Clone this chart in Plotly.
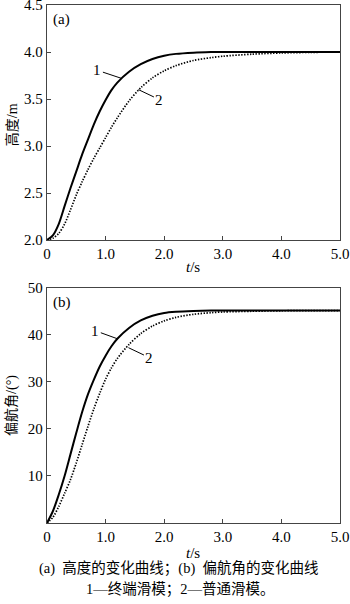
import plotly.graph_objects as go

# ---- data ----
t = [0, 0.1, 0.2, 0.3, 0.4, 0.5, 0.6, 0.7, 0.8, 0.9, 1.0, 1.1, 1.2, 1.4, 1.6, 1.8,
     2.0, 2.2, 2.5, 2.8, 3.0, 3.5, 4.0, 4.5, 5.0]

height_tsm = [2.0, 2.05, 2.17, 2.36, 2.55, 2.73, 2.91, 3.07, 3.23, 3.37, 3.49, 3.595, 3.675,
              3.79, 3.87, 3.925, 3.96, 3.98, 3.993, 3.999, 4.0, 4.0, 4.0, 4.0, 4.0]
height_smc = [2.0, 2.02, 2.07, 2.17, 2.32, 2.48, 2.62, 2.75, 2.87, 2.98, 3.09, 3.20, 3.30,
              3.48, 3.62, 3.725, 3.80, 3.855, 3.91, 3.94, 3.955, 3.977, 3.99, 3.996, 4.0]

yaw_tsm = [0, 2.5, 6.0, 10.0, 14.6, 19.2, 23.6, 27.4, 30.5, 33.3, 35.6, 37.6, 39.2,
           41.5, 43.1, 44.1, 44.7, 44.95, 45.12, 45.2, 45.2, 45.2, 45.2, 45.2, 45.2]
yaw_smc = [0, 1.2, 3.5, 6.3, 9.2, 12.8, 16.7, 20.6, 24.3, 27.6, 30.6, 33.0, 35.0,
           38.0, 40.3, 41.9, 43.0, 43.75, 44.4, 44.75, 44.9, 45.05, 45.15, 45.2, 45.2]

x_tickvals = [0, 1, 2, 3, 4, 5]
x_ticktext = ["0", "1.0", "2.0", "3.0", "4.0", "5.0"]
h_tickvals = [2.0, 2.5, 3.0, 3.5, 4.0, 4.5]
h_ticktext = ["2.0", "2.5", "3.0", "3.5", "4.0", "4.5"]
yaw_tickvals = [0, 10, 20, 30, 40, 50]
yaw_ticktext = ["", "10", "20", "30", "40", "50"]

SERIF = "Liberation Serif"
MIXED = "Liberation Serif, Noto Sans CJK SC"
AXC = "#444444"
DOTS = "1.4px,1.5px"

fig = go.Figure()
fig.add_trace(go.Scatter(x=t, y=height_tsm, mode="lines",
                         line=dict(color="black", width=2, shape="spline", smoothing=0.8),
                         xaxis="x", yaxis="y", showlegend=False))
fig.add_trace(go.Scatter(x=t, y=height_smc, mode="lines",
                         line=dict(color="black", width=1.7, dash=DOTS, shape="spline", smoothing=0.8),
                         xaxis="x", yaxis="y", showlegend=False))
fig.add_trace(go.Scatter(x=t, y=yaw_tsm, mode="lines",
                         line=dict(color="black", width=2, shape="spline", smoothing=0.8),
                         xaxis="x2", yaxis="y2", showlegend=False))
fig.add_trace(go.Scatter(x=t, y=yaw_smc, mode="lines",
                         line=dict(color="black", width=1.7, dash=DOTS, shape="spline", smoothing=0.8),
                         xaxis="x2", yaxis="y2", showlegend=False))

common_x = dict(range=[0, 5], tickvals=x_tickvals, ticktext=x_ticktext, ticks="inside", ticklen=4,
                tickcolor=AXC, showline=True, linecolor=AXC, linewidth=1.3, mirror=True,
                showgrid=False, zeroline=False, automargin=False, ticklabeloverflow="allow",
                tickfont=dict(family=SERIF, size=15, color="black"))
common_y = dict(ticks="inside", ticklen=4, tickcolor=AXC, showline=True, linecolor=AXC, linewidth=1.3,
                mirror=True, showgrid=False, zeroline=False, automargin=False, ticklabeloverflow="allow",
                tickfont=dict(family=SERIF, size=15, color="black"))

fig.update_layout(
    width=350, height=604,
    margin=dict(l=47, r=10, t=5, b=81),
    paper_bgcolor="white", plot_bgcolor="white",
    font=dict(family=MIXED),
    xaxis=dict(domain=[0, 1], anchor="y", **common_x),
    yaxis=dict(domain=[0.5463, 1], anchor="x", range=[2.0, 4.5], tickvals=h_tickvals, ticktext=h_ticktext,
               **common_y),
    xaxis2=dict(domain=[0, 1], anchor="y2", **common_x),
    yaxis2=dict(domain=[0, 0.4537], anchor="x2", range=[0, 50], tickvals=yaw_tickvals, ticktext=yaw_ticktext,
                **common_y),
)

ann_font = dict(family=SERIF, size=15, color="black")
cap_font = dict(family=MIXED, size=14, color="black")
annotations = [
    dict(text="(a)", xref="x domain", yref="y domain", x=0.015, y=0.985, xanchor="left", yanchor="top",
         showarrow=False, font=ann_font),
    dict(text="(b)", xref="x2 domain", yref="y2 domain", x=0.015, y=0.985, xanchor="left", yanchor="top",
         showarrow=False, font=ann_font),
    # axis titles
    dict(text="<i>t</i>/s", xref="paper", yref="paper", x=0.498, y=0.4942, xanchor="center", yanchor="middle",
         showarrow=False, font=ann_font),
    dict(text="<i>t</i>/s", xref="paper", yref="paper", x=0.498, y=-0.0579, xanchor="center", yanchor="middle",
         showarrow=False, font=ann_font),
    dict(text="高度/m", xref="paper", yref="paper", x=-0.1195, y=0.770, xanchor="center", yanchor="middle",
         textangle=-90, showarrow=False, font=cap_font),
    dict(text="偏航角/(°)", xref="paper", yref="paper", x=-0.1195, y=0.228, xanchor="center", yanchor="middle",
         textangle=-90, showarrow=False, font=cap_font),
    # curve labels
    dict(text="1", xref="x", yref="y", x=1.27, y=3.72, ax=-24, ay=-8, showarrow=True, arrowhead=0,
         arrowwidth=1, arrowcolor="black", font=ann_font, standoff=0),
    dict(text="2", xref="x", yref="y", x=1.56, y=3.60, ax=21, ay=10, showarrow=True, arrowhead=0,
         arrowwidth=1, arrowcolor="black", font=ann_font, standoff=0),
    dict(text="1", xref="x2", yref="y2", x=1.2, y=39.2, ax=-22, ay=-8, showarrow=True, arrowhead=0,
         arrowwidth=1, arrowcolor="black", font=ann_font, standoff=0),
    dict(text="2", xref="x2", yref="y2", x=1.39, y=37.3, ax=21, ay=10, showarrow=True, arrowhead=0,
         arrowwidth=1, arrowcolor="black", font=ann_font, standoff=0),
    # caption
    dict(text="(a)  高度的变化曲线；(b)  偏航角的变化曲线", xref="paper", yref="paper", x=0.45, y=-0.0869,
         xanchor="center", yanchor="middle", showarrow=False, font=dict(family=MIXED, size=14.5, color="black")),
    dict(text="1—终端滑模；2—普通滑模。", xref="paper", yref="paper", x=0.455, y=-0.1293,
         xanchor="center", yanchor="middle", showarrow=False, font=dict(family=MIXED, size=14.5, color="black")),
]
fig.update_layout(annotations=annotations)

fig.write_html("out.html", config={"displayModeBar": False},
               post_script="document.body.style.margin='0';document.body.style.padding='0';")
